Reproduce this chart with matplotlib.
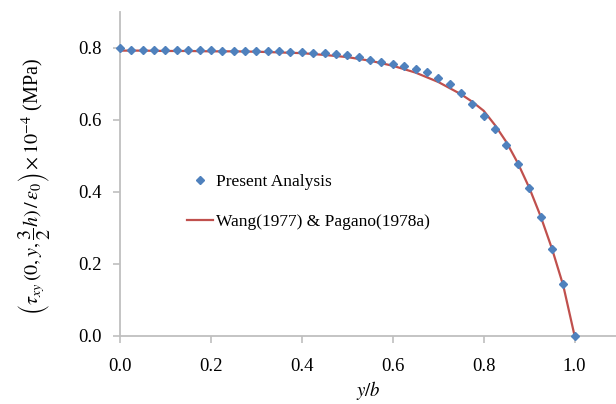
import matplotlib
matplotlib.use("Agg")
import matplotlib.pyplot as plt

# Present Analysis (markers)
x_present = [0.000, 0.025, 0.050, 0.075, 0.100, 0.125, 0.150, 0.175, 0.200, 0.225,
             0.250, 0.275, 0.300, 0.325, 0.350, 0.375, 0.400, 0.425, 0.450, 0.475,
             0.500, 0.525, 0.550, 0.575, 0.600, 0.625, 0.650, 0.675, 0.700, 0.725,
             0.750, 0.775, 0.800, 0.825, 0.850, 0.875, 0.900, 0.925, 0.950, 0.975, 1.000]
y_present = [0.799, 0.795, 0.795, 0.794, 0.794, 0.794, 0.794, 0.793, 0.793, 0.792,
             0.792, 0.792, 0.791, 0.791, 0.790, 0.789, 0.788, 0.786, 0.784, 0.782,
             0.779, 0.773, 0.767, 0.761, 0.755, 0.750, 0.742, 0.732, 0.717, 0.698,
             0.674, 0.645, 0.611, 0.574, 0.530, 0.476, 0.410, 0.331, 0.241, 0.143, 0.000]

# Wang(1977) & Pagano(1978a) (line)
x_wang = [0.00, 0.05, 0.10, 0.15, 0.20, 0.25, 0.30, 0.35, 0.40, 0.45, 0.50, 0.55,
          0.60, 0.65, 0.70, 0.75, 0.775, 0.80, 0.825, 0.85, 0.875, 0.90, 0.925,
          0.95, 0.975, 1.00]
y_wang = [0.792, 0.792, 0.791, 0.791, 0.790, 0.790, 0.789, 0.787, 0.785, 0.780,
          0.774, 0.764, 0.750, 0.731, 0.705, 0.671, 0.650, 0.625, 0.585, 0.538,
          0.480, 0.412, 0.333, 0.243, 0.140, 0.000]

x_ticks = [0.0, 0.2, 0.4, 0.6, 0.8, 1.0]
y_ticks = [0.0, 0.2, 0.4, 0.6, 0.8]

plt.rcParams['font.family'] = ['Liberation Serif', 'DejaVu Serif']
plt.rcParams['mathtext.fontset'] = 'stix'

fig = plt.figure(figsize=(6.16, 4.04), dpi=100)
ax = fig.add_axes([120/616, 1 - 336/404, 1 - 120/616, (336 - 11.7)/404])

ax.plot(x_wang, y_wang, color='#c0504d', lw=1.6, label='Wang(1977) & Pagano(1978a)', zorder=2)
ax.plot(x_present, y_present, ls='none', marker='D', ms=4.3, color='#4f81bd',
        label='Present Analysis', zorder=3, clip_on=False)

ax.set_xlim(0, 1.091)
ax.set_ylim(0, 0.9)
ax.set_xticks(x_ticks)
ax.set_yticks(y_ticks)
ax.set_xticklabels([f"{v:.1f}" for v in x_ticks])
ax.set_yticklabels([f"{v:.1f}" for v in y_ticks])

for s in ['top', 'right']:
    ax.spines[s].set_visible(False)
for s in ['left', 'bottom']:
    ax.spines[s].set_color('#bfbfbf')
    ax.spines[s].set_linewidth(1.3)
ax.tick_params(axis='both', colors='#bfbfbf', length=5, width=1.2, labelsize=13.5,
               labelcolor='black', direction='out')
ax.tick_params(axis='x', pad=11)
ax.tick_params(axis='y', pad=8)

ax.set_xlabel('$y/b$', fontsize=13.5, labelpad=3)
ax.set_ylabel(r'$\left(\tau_{xy}\,(0,y,\dfrac{3}{2}h)\,/\,\varepsilon_0\right)\times10^{-4}$ (MPa)',
              fontsize=14.5)
ax.yaxis.set_label_coords(-0.135, 0.46)

h, l = ax.get_legend_handles_labels()
leg = ax.legend(handles=h[::-1], labels=l[::-1],
                loc='upper left', bbox_to_anchor=((180 - 120)/496, 1 - (167 - 11.7)/324.3),
                frameon=False, fontsize=12.5, handlelength=1.5, handletextpad=0.15,
                labelspacing=1.35, borderaxespad=0)

fig.savefig('out.png', dpi=100)
